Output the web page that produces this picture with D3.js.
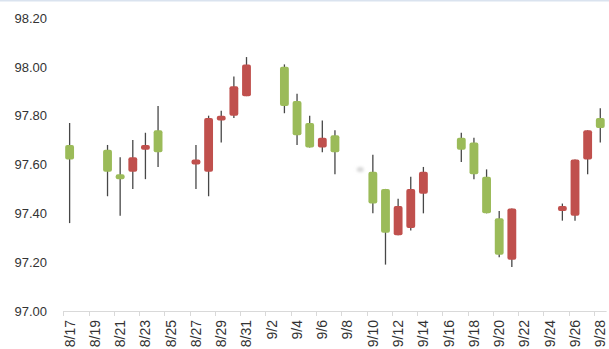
<!DOCTYPE html>
<html>
<head>
<meta charset="utf-8">
<script src="https://cdn.jsdelivr.net/npm/d3@7"></script>
<style>
  body { margin: 0; background: #fff; }
  svg { display: block; }
  text { font-family: "Liberation Sans", Arial, sans-serif; fill: #333333; }
</style>
</head>
<body>
<svg id="chart" width="609" height="349"></svg>
<script>
// Daily OHLC quotes (red = close above open, green = close below open)
const dates = ["8/17","8/20","8/21","8/22","8/23","8/24","8/27","8/28","8/29","8/30","8/31",
               "9/3","9/4","9/5","9/6","9/7","9/9","9/10","9/11","9/12","9/13","9/14",
               "9/17","9/18","9/19","9/20","9/21","9/25","9/26","9/27","9/28"];
const open  = [97.68,97.66,97.56,97.57,97.66,97.74,97.60,97.57,97.78,97.80,97.88,
               98.00,97.86,97.77,97.67,97.72,97.58,97.57,97.50,97.31,97.34,97.48,
               97.71,97.69,97.55,97.38,97.21,97.41,97.39,97.62,97.79];
const high  = [97.77,97.68,97.63,97.70,97.73,97.84,97.68,97.80,97.82,97.96,98.04,
               98.01,97.89,97.80,97.78,97.74,97.58,97.64,97.50,97.46,97.55,97.59,
               97.73,97.71,97.58,97.41,97.42,97.44,97.62,97.74,97.83];
const low   = [97.36,97.47,97.39,97.50,97.54,97.59,97.50,97.47,97.69,97.79,97.88,
               97.81,97.68,97.67,97.65,97.56,97.58,97.40,97.19,97.31,97.33,97.40,
               97.61,97.54,97.40,97.22,97.18,97.37,97.37,97.56,97.69];
const close = [97.62,97.57,97.54,97.63,97.68,97.65,97.62,97.79,97.80,97.92,98.01,
               97.84,97.72,97.67,97.71,97.65,97.58,97.44,97.32,97.43,97.50,97.57,
               97.66,97.56,97.40,97.23,97.42,97.43,97.62,97.74,97.75];
const yTicks = [97.00, 97.20, 97.40, 97.60, 97.80, 98.00, 98.20];
const firstDay = "2018-08-17", lastDay = "2018-09-28";

const upColor = "#c0504d", downColor = "#9bbb59", wickColor = "#474747";

const svg = d3.select("#chart");
const W = 609, H = 349;
const plot = { left: 63.3, right: 606.6, top: 18, bottom: 311 };

// calendar days spanned by the date axis
const fmt = d3.timeFormat("%-m/%-d");
const parse = d3.timeParse("%Y-%m-%d");
const allDays = d3.timeDay.range(parse(firstDay), d3.timeDay.offset(parse(lastDay), 1)).map(fmt);

const x = d3.scaleBand().domain(allDays).range([plot.left, plot.right]).padding(0);
const y = d3.scaleLinear().domain([97.0, 98.2]).range([plot.bottom, plot.top]);
const bw = x.bandwidth();

// thin frame line along the top edge
svg.append("rect").attr("x", 0).attr("y", 0).attr("width", W).attr("height", 1.5)
  .attr("fill", "#dae3ef");

// value axis labels
const yAxis = svg.append("g").attr("transform", `translate(${47},0)`)
  .call(d3.axisLeft(y).tickValues(yTicks).tickFormat(d3.format(".2f")).tickSize(0).tickPadding(0));
yAxis.select(".domain").remove();
yAxis.selectAll("text").style("font-size", "13px").attr("fill", "#333333");

// date axis: line, tick marks between days, rotated labels every second day
const labelDays = allDays.filter((d, i) => i % 2 === 0);
const xg = svg.append("g");
xg.append("line").attr("x1", plot.left).attr("x2", plot.right)
  .attr("y1", plot.bottom + 0.5).attr("y2", plot.bottom + 0.5)
  .attr("stroke", "#d9d9d9").attr("stroke-width", 1);
xg.selectAll("line.tick").data(labelDays).join("line").attr("class", "tick")
  .attr("x1", d => Math.round(x(d)) + 0.5).attr("x2", d => Math.round(x(d)) + 0.5)
  .attr("y1", plot.bottom).attr("y2", plot.bottom + 5)
  .attr("stroke", "#d9d9d9").attr("stroke-width", 1);
xg.selectAll("text").data(labelDays).join("text")
  .attr("transform", d => `translate(${x(d) + bw / 2},${plot.bottom + 9}) rotate(-90)`)
  .attr("text-anchor", "end").attr("dy", "0.35em")
  .style("font-size", "14px")
  .text(d => d);

// candles
const rows = dates.map((d, i) => ({ d, o: open[i], h: high[i], l: low[i], c: close[i] }));
const bodyW = bw * 0.7;

const defs = svg.append("defs");
defs.append("filter").attr("id", "soft").attr("x", "-100%").attr("y", "-100%")
  .attr("width", "300%").attr("height", "300%")
  .append("feGaussianBlur").attr("stdDeviation", 1.6);

const flat = rows.filter(r => r.h === r.l);
const candles = rows.filter(r => r.h !== r.l);

// a day with no range leaves only a faint smudge
svg.selectAll("ellipse.flat").data(flat).join("ellipse").attr("class", "flat")
  .attr("cx", r => x(r.d) + bw / 2).attr("cy", r => y(r.c))
  .attr("rx", 3.5).attr("ry", 2.5).attr("fill", "#d6d6d6")
  .attr("filter", "url(#soft)");

const g = svg.append("g");
g.selectAll("line.wick").data(candles).join("line").attr("class", "wick")
  .attr("x1", r => x(r.d) + bw / 2).attr("x2", r => x(r.d) + bw / 2)
  .attr("y1", r => y(r.h)).attr("y2", r => y(r.l))
  .attr("stroke", wickColor).attr("stroke-width", 1.3);
g.selectAll("rect.body").data(candles).join("rect").attr("class", "body")
  .attr("x", r => x(r.d) + bw / 2 - bodyW / 2).attr("width", bodyW)
  .attr("y", r => y(Math.max(r.o, r.c)))
  .attr("height", r => Math.max(1, Math.abs(y(r.o) - y(r.c))))
  .attr("rx", 2).attr("ry", 2)
  .attr("fill", r => r.c >= r.o ? upColor : downColor);
</script>
</body>
</html>
